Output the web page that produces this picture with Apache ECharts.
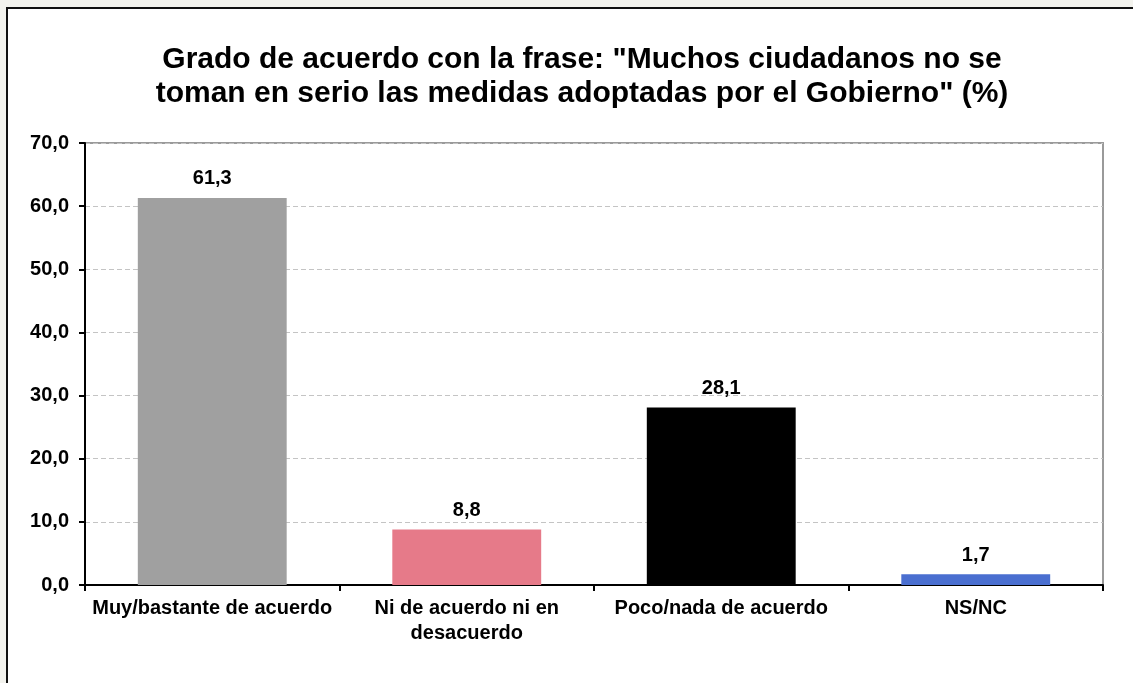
<!DOCTYPE html>
<html>
<head>
<meta charset="utf-8">
<script src="https://cdn.jsdelivr.net/npm/echarts@6/dist/echarts.min.js"></script>
<style>
  html, body { margin: 0; padding: 0; background: #f3f3ee; }
  #frame { position: absolute; left: 6px; top: 7px; width: 1140px; height: 700px;
           background: #fff; border-left: 2px solid #111; border-top: 2px solid #111; }
  #main { position: absolute; left: 0; top: 0; width: 1133px; height: 683px; }
</style>
</head>
<body>
<div id="frame"></div>
<div id="main"></div>
<script>
const titleLines = ['Grado de acuerdo con la frase: "Muchos ciudadanos no se', 'toman en serio las medidas adoptadas por el Gobierno" (%)']
const categories = ['Muy/bastante de acuerdo', 'Ni de acuerdo ni en\ndesacuerdo', 'Poco/nada de acuerdo', 'NS/NC']
const values = [61.3, 8.8, 28.1, 1.7]
const barColors = ['#a0a0a0', '#e67a89', '#000000', '#4a6fd0']

const fmt = v => Number(v).toFixed(1).replace('.', ',')
const font = '"Liberation Sans", Arial, sans-serif'

var myChart = echarts.init(document.getElementById('main'), null, { renderer: 'canvas' })

var option = {
  backgroundColor: 'transparent',
  animation: false,
  title: {
    text: titleLines.join('\n'),
    left: 577,
    top: 38,
    textAlign: 'center',
    textStyle: {
      fontFamily: font,
      fontWeight: 'bold',
      fontSize: 30,
      lineHeight: 34,
      color: '#000'
    }
  },
  grid: {
    left: 85,
    right: 30,
    top: 143,
    bottom: 98,
    show: true,
    borderColor: '#9a9a9a',
    borderWidth: 2
  },
  xAxis: {
    type: 'category',
    data: categories,
    axisLine: { lineStyle: { color: '#000', width: 2 } },
    axisTick: { show: true, alignWithLabel: false, length: 6, lineStyle: { color: '#000', width: 2 } },
    axisLabel: {
      interval: 0,
      color: '#000',
      fontFamily: font,
      fontWeight: 'bold',
      fontSize: 20,
      lineHeight: 25,
      margin: 11
    }
  },
  yAxis: {
    type: 'value',
    min: 0,
    max: 70,
    interval: 10,
    axisLine: { show: true, lineStyle: { color: '#000', width: 2 } },
    axisTick: { show: true, length: 6, lineStyle: { color: '#000', width: 2 } },
    splitLine: { lineStyle: { color: '#c4c4c4', type: [5, 3], width: 1 } },
    axisLabel: {
      color: '#000',
      fontFamily: font,
      fontWeight: 'bold',
      fontSize: 20,
      margin: 16,
      formatter: fmt
    }
  },
  series: [
    {
      type: 'bar',
      barWidth: '58.5%',
      data: values.map((v, i) => ({ value: v, itemStyle: { color: barColors[i] } })),
      label: {
        show: true,
        position: 'top',
        distance: 9,
        color: '#000',
        fontFamily: font,
        fontWeight: 'bold',
        fontSize: 20,
        formatter: p => fmt(p.value)
      }
    }
  ]
}

myChart.setOption(option)
window.addEventListener('resize', () => {
  myChart.resize()
})
</script>
</body>
</html>
